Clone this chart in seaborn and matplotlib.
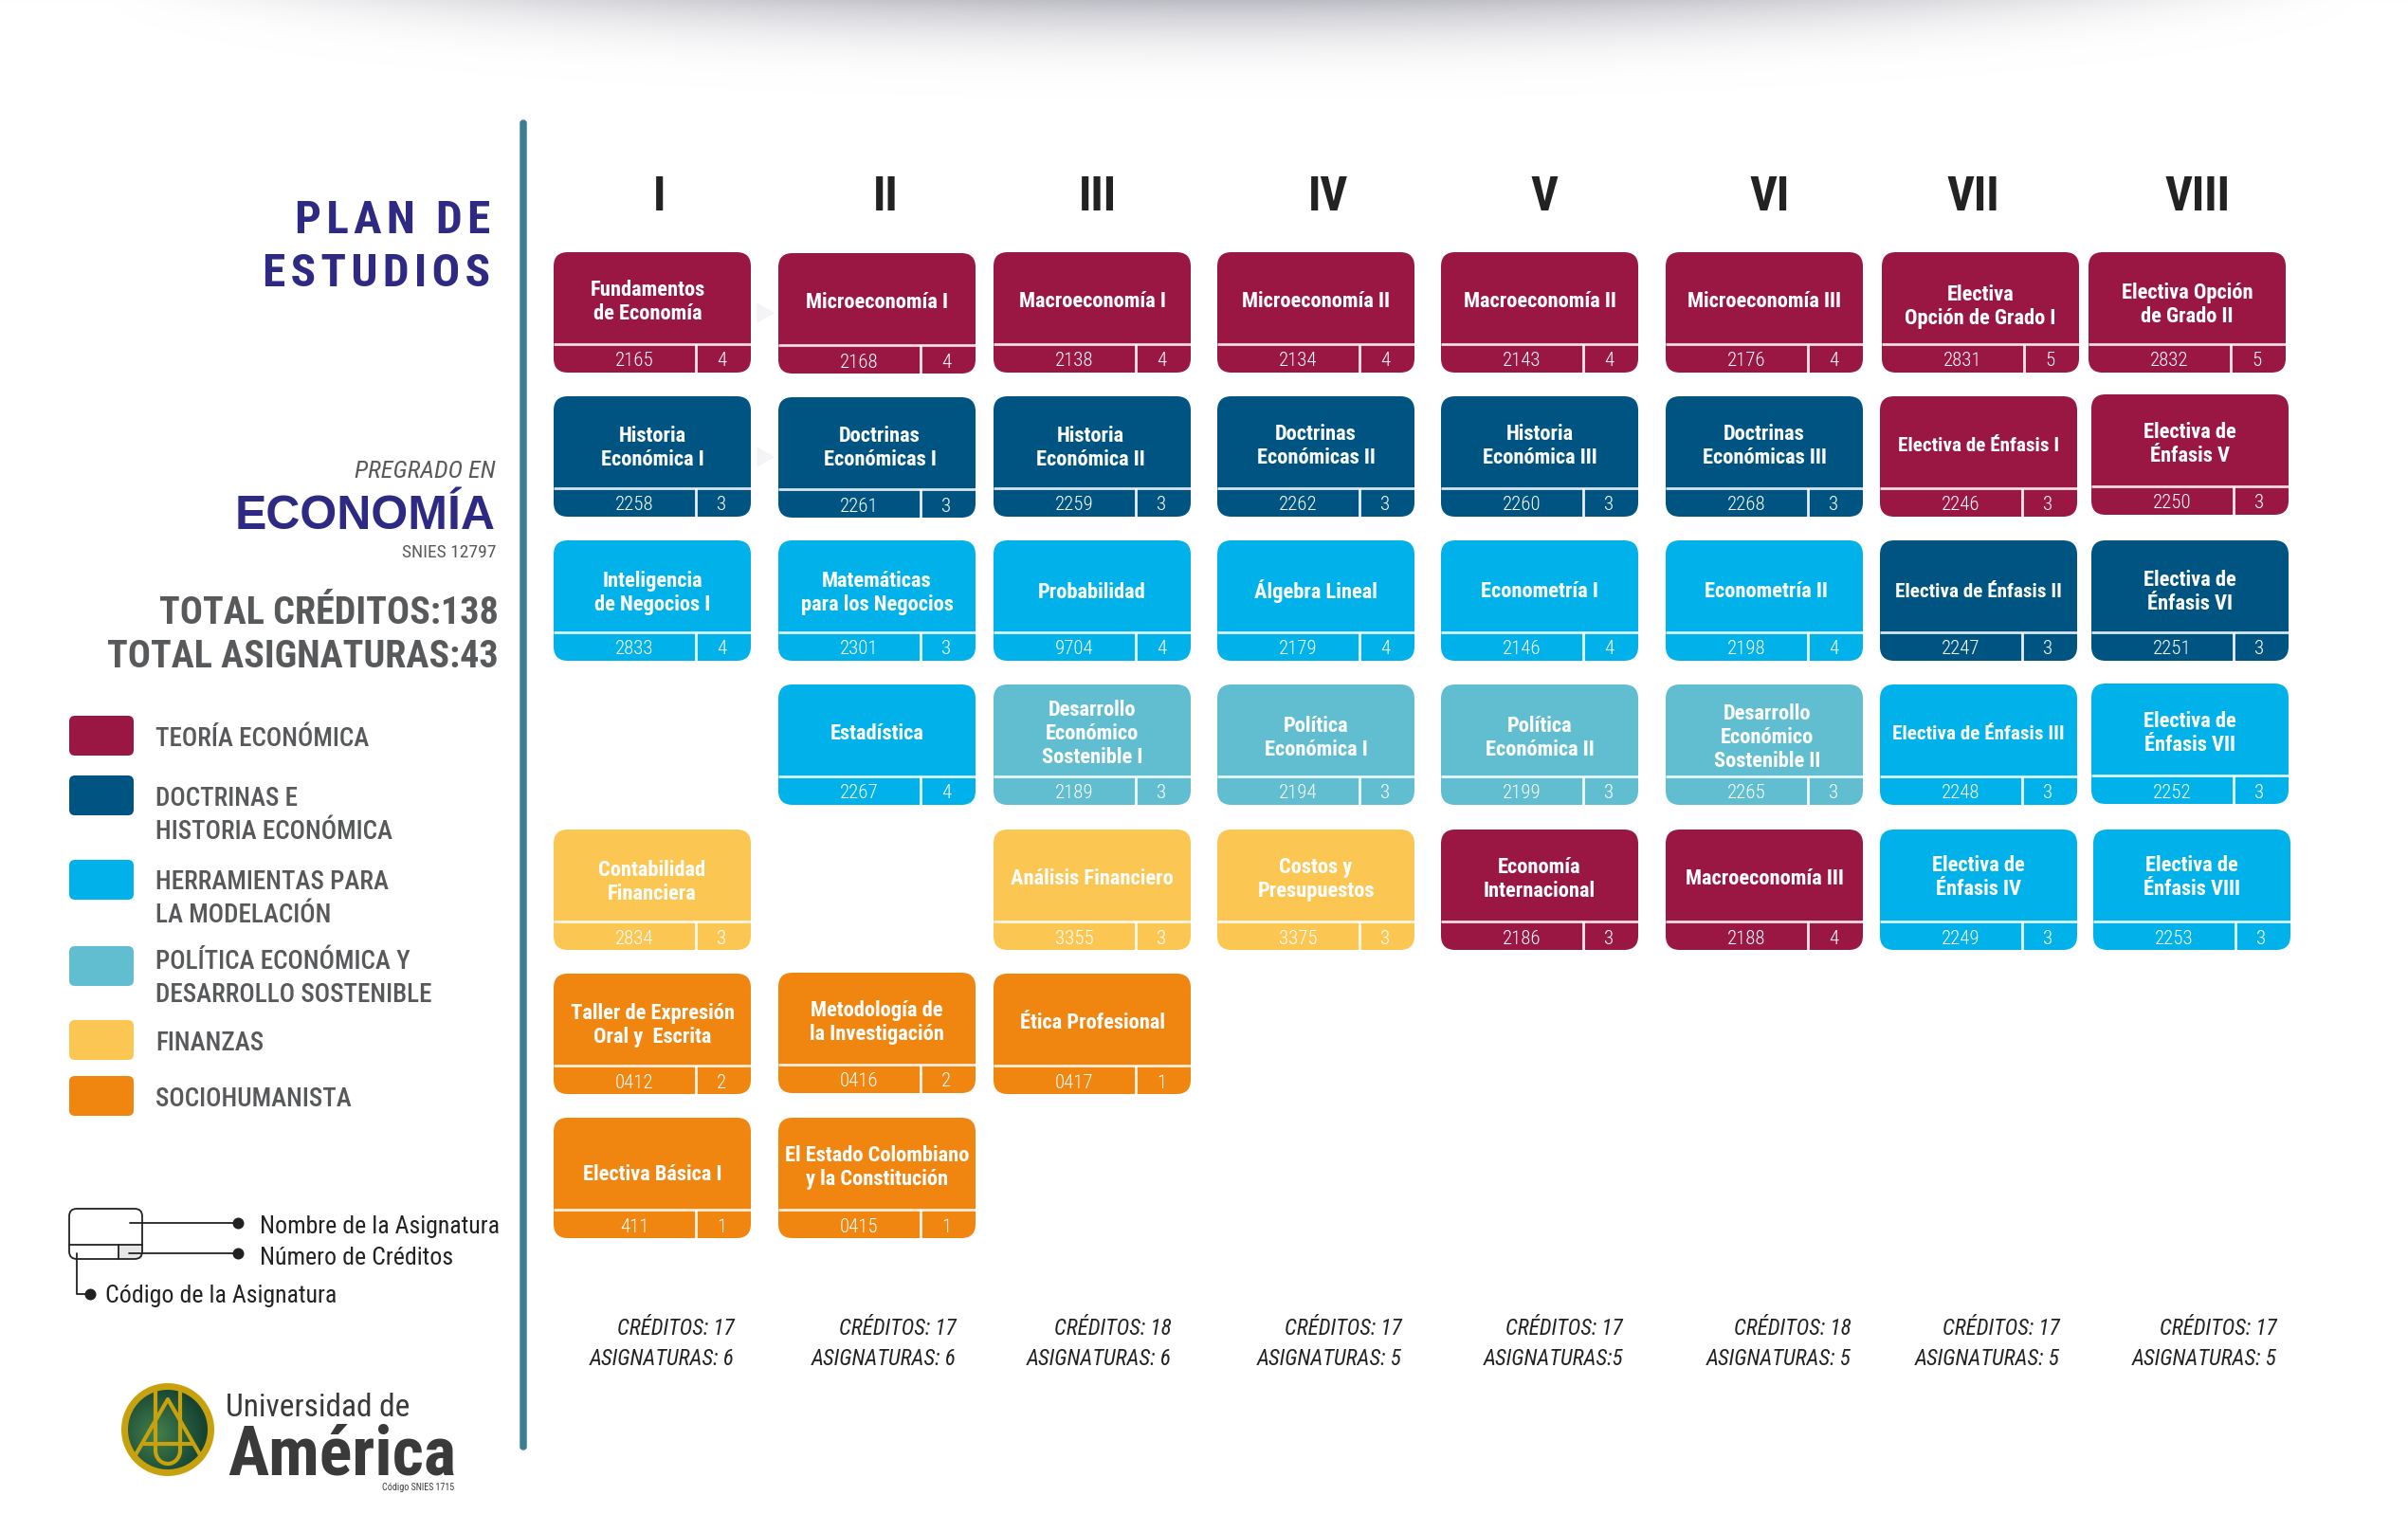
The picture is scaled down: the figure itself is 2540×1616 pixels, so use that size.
# imports
import numpy as np
import pandas as pd
import matplotlib
matplotlib.use("Agg")
import matplotlib.pyplot as plt
import matplotlib.font_manager as fm
from matplotlib.patches import Circle, FancyBboxPatch, Polygon, Rectangle, Arc
import seaborn as sns

# course data, semester by semester
course_sem = [1]*6 + [2]*6 + [3]*6 + [4]*5 + [5]*5 + [6]*5 + [7]*5 + [8]*5
course_row = [0, 1, 2, 4, 5, 6,
              0, 1, 2, 3, 5, 6,
              0, 1, 2, 3, 4, 5,
              0, 1, 2, 3, 4,
              0, 1, 2, 3, 4,
              0, 1, 2, 3, 4,
              0, 1, 2, 3, 4,
              0, 1, 2, 3, 4]
course_names = [
    "Fundamentos\nde Economía", "Historia\nEconómica I", "Inteligencia\nde Negocios I",
    "Contabilidad\nFinanciera", "Taller de Expresión\nOral y  Escrita", "Electiva Básica I",
    "Microeconomía I", "Doctrinas\nEconómicas I", "Matemáticas\npara los Negocios",
    "Estadística", "Metodología de\nla Investigación", "El Estado Colombiano\ny la Constitución",
    "Macroeconomía I", "Historia\nEconómica II", "Probabilidad",
    "Desarrollo\nEconómico\nSostenible I", "Análisis Financiero", "Ética Profesional",
    "Microeconomía II", "Doctrinas\nEconómicas II", "Álgebra Lineal",
    "Política\nEconómica I", "Costos y\nPresupuestos",
    "Macroeconomía II", "Historia\nEconómica III", "Econometría I",
    "Política\nEconómica II", "Economía\nInternacional",
    "Microeconomía III", "Doctrinas\nEconómicas III", "Econometría II",
    "Desarrollo\nEconómico\nSostenible II", "Macroeconomía III",
    "Electiva\nOpción de Grado I", "Electiva de Énfasis I", "Electiva de Énfasis II",
    "Electiva de Énfasis III", "Electiva de\nÉnfasis IV",
    "Electiva Opción\nde Grado II", "Electiva de\nÉnfasis V", "Electiva de\nÉnfasis VI",
    "Electiva de\nÉnfasis VII", "Electiva de\nÉnfasis VIII",
]
course_codes = [
    "2165", "2258", "2833", "2834", "0412", "411",
    "2168", "2261", "2301", "2267", "0416", "0415",
    "2138", "2259", "9704", "2189", "3355", "0417",
    "2134", "2262", "2179", "2194", "3375",
    "2143", "2260", "2146", "2199", "2186",
    "2176", "2268", "2198", "2265", "2188",
    "2831", "2246", "2247", "2248", "2249",
    "2832", "2250", "2251", "2252", "2253",
]
course_credits = [
    4, 3, 4, 3, 2, 1,
    4, 3, 3, 4, 2, 1,
    4, 3, 4, 3, 3, 1,
    4, 3, 4, 3, 3,
    4, 3, 4, 3, 3,
    4, 3, 4, 3, 4,
    5, 3, 3, 3, 3,
    5, 3, 3, 3, 3,
]
course_areas = [
    "T", "D", "H", "F", "S", "S",
    "T", "D", "H", "H", "S", "S",
    "T", "D", "H", "P", "F", "S",
    "T", "D", "H", "P", "F",
    "T", "D", "H", "P", "T",
    "T", "D", "H", "P", "T",
    "T", "T", "D", "H", "H",
    "T", "T", "D", "H", "H",
]

semesters = ["I", "II", "III", "IV", "V", "VI", "VII", "VIII"]
sem_credits = ["CRÉDITOS: 17", "CRÉDITOS: 17", "CRÉDITOS: 18", "CRÉDITOS: 17",
               "CRÉDITOS: 17", "CRÉDITOS: 18", "CRÉDITOS: 17", "CRÉDITOS: 17"]
sem_subjects = ["ASIGNATURAS: 6", "ASIGNATURAS: 6", "ASIGNATURAS: 6", "ASIGNATURAS: 5",
                "ASIGNATURAS:5", "ASIGNATURAS: 5", "ASIGNATURAS: 5", "ASIGNATURAS: 5"]

area_keys = ["T", "D", "H", "P", "F", "S"]
area_labels = ["TEORÍA ECONÓMICA", "DOCTRINAS E\nHISTORIA ECONÓMICA", "HERRAMIENTAS PARA\nLA MODELACIÓN",
               "POLÍTICA ECONÓMICA Y\nDESARROLLO SOSTENIBLE", "FINANZAS", "SOCIOHUMANISTA"]

# colours
palette = sns.color_palette(["#9A1744", "#005482", "#00B2E9", "#61BED1", "#FCC653", "#F08510"])
area_colors = dict(zip(area_keys, palette))
NAVY = "#2E2A83"
GRAY = "#58595B"
BAR = "#3E7C92"
DARK = "#3A3A3A"

# layout in image pixels
col_left = [584, 821, 1048, 1284, 1520, 1757, 1983, 2206]
row_top = [266, 418, 570, 722, 875, 1027, 1179]
CARD_W, CARD_H = 208, 127
sem_x = [696, 934, 1158, 1401, 1629, 1867, 2081, 2318]
foot_right = [775, 1009, 1236, 1479, 1712, 1953, 2173, 2402]
swatch_top = [755, 818, 907, 998, 1076, 1135]
label_y = [[777], [840, 875], [928, 963], [1012, 1047], [1098], [1157]]

# cards that sit a little off the grid, code: (dx, dy)
card_nudge = {"2168": (0, 1), "2261": (0, 1), "2831": (2, 0), "2832": (-3, 0), "2250": (0, -2),
              "2252": (0, -1), "2253": (2, 0), "0416": (0, -1)}
# titles that sit off the middle of their card, code: (dx, dy)
title_nudge = {"2165": (-5, 0), "2258": (0, 2), "2833": (0, 3), "2301": (0, 3), "9704": (0, 3),
               "2179": (0, 3), "2146": (0, 2), "2198": (2, 2), "2247": (0, 2), "2251": (0, 2),
               "2834": (0, 3), "2194": (0, 4), "2199": (0, 4), "411": (0, 8), "2831": (0, 5),
               "2832": (0, 3), "2259": (-2, 2), "2265": (3, 4), "0412": (0, 2), "2261": (3, 1),
               "2253": (0, -2), "2249": (0, -2)}

sns.set_theme(style="white")

# pick the narrowest installed family
installed = {f.name for f in fm.fontManager.ttflist}
NARROW = next(n for n in ["Roboto Condensed", "Liberation Sans Narrow", "Roboto"] if n in installed)
WIDE = "Liberation Sans"

fig = plt.figure(figsize=(25.4, 16.16), dpi=100, facecolor="white")
ax = fig.add_axes([0, 0, 1, 1])


def put(x, y, s, size, color="white", ha="center", weight="normal", style="normal", family=NARROW, z=5):
    # y is the vertical middle of the capitals, size in points
    ax.text(x, y + size / 2, s, fontsize=size, color=color, ha=ha, va="baseline",
            fontweight=weight, fontstyle=style, family=family, zorder=z)


# grey shadow at the top edge
gx, gy = np.meshgrid(np.arange(2540), np.arange(110))
spread = np.clip(1 - ((gx - 1300) / 1180) ** 2, 1e-4, 1)
fade = np.clip(1 - gy / (105 * np.sqrt(spread)), 0, 1) ** 2.4
shade = 1 - 0.26 * fade * spread ** 1.3
ax.imshow(np.dstack([shade, shade, shade + (1 - shade) * 0.12]), extent=(0, 2540, 110, 0), zorder=0)

# vertical rule
ax.add_patch(FancyBboxPatch((550, 128), 4, 1400, boxstyle="round,pad=0,rounding_size=2",
                            fc=BAR, ec=BAR, lw=2.5, zorder=2))

# faint arrows between the first two columns
for y_mid in [330, 482]:
    ax.add_patch(Polygon([[798, y_mid - 11], [817, y_mid], [798, y_mid + 11]], fc="#F4F4F6", ec="none", zorder=1))

# left panel headings, hair spaces stand in for the wide tracking
put(517, 228, "\u200a".join("PLAN DE"), 35.5, NAVY, "right", "bold", family=[NARROW, "DejaVu Sans"])
put(517, 284, "\u200a".join("ESTUDIOS"), 35.5, NAVY, "right", "bold", family=[NARROW, "DejaVu Sans"])
put(523, 494, "PREGRADO EN", 19, GRAY, "right", style="italic")
put(523, 540, "ECONOMÍA", 36, NAVY, "right", "bold", family=WIDE)
put(523, 581, "SNIES 12797", 14, GRAY, "right")
put(526, 644, "TOTAL CRÉDITOS:138", 28.9, GRAY, "right", "bold")
put(526, 690, "TOTAL ASIGNATURAS:43", 28.9, GRAY, "right", "bold")

# legend of areas
for top, lab, ys, col in zip(swatch_top, area_labels, label_y, palette):
    ax.add_patch(FancyBboxPatch((73, top), 68, 42, boxstyle="round,pad=0,rounding_size=6", fc=col, ec="none", zorder=3))
    for line, y in zip(lab.split("\n"), ys):
        put(164, y, line, 19.5, GRAY, "left", "medium")

# small key that explains a card
ax.add_patch(Rectangle((125, 1313), 25, 15, fc="#E6E6E6", ec="none", zorder=3))
ax.add_patch(FancyBboxPatch((73, 1275), 77, 53, boxstyle="round,pad=0,rounding_size=8", fc="none", ec="#222222", lw=1.3, zorder=4))
ax.plot([73, 150], [1313, 1313], color="#222222", lw=1.3, zorder=4)
ax.plot([125, 125], [1313, 1328], color="#222222", lw=1.3, zorder=4)
ax.plot([137, 251], [1290, 1290], color="#222222", lw=1.3, zorder=4)
ax.plot([136, 251], [1322, 1322], color="#222222", lw=1.3, zorder=4)
ax.plot([81, 81, 95], [1322, 1365, 1365], color="#222222", lw=1.3, zorder=4)
sns.scatterplot(x=[251, 251, 95], y=[1290, 1322, 1365], color="#222222", s=75, linewidth=0, legend=False, ax=ax, zorder=5)
put(274, 1292, "Nombre de la Asignatura", 18.6, "#222222", "left")
put(274, 1325, "Número de Créditos", 18.6, "#222222", "left")
put(111, 1365, "Código de la Asignatura", 18.6, "#222222", "left")

# university logo
CX, CY = 177, 1508
ax.add_patch(Circle((CX, CY), 49, fc="#C8A20E", ec="none", zorder=3))
lx, ly = np.meshgrid(np.linspace(-43, 43, 120), np.linspace(-43, 43, 120))
glow = np.clip(np.sqrt((lx + 12) ** 2 + (ly - 4) ** 2) / 50, 0, 1)[..., None]
green = np.array([0.26, 0.50, 0.30]) * (1 - glow) + np.array([0.09, 0.27, 0.20]) * glow
im = ax.imshow(green, extent=(CX - 43, CX + 43, CY + 43, CY - 43), zorder=3.5)
im.set_clip_path(Circle((CX, CY), 42, transform=ax.transData))
gold = "#C8A20E"
ax.plot([CX - 13, CX - 13], [CY - 42, CY + 22], color=gold, lw=3, zorder=4)
ax.plot([CX + 13, CX + 13], [CY - 42, CY + 22], color=gold, lw=3, zorder=4)
ax.add_patch(Arc((CX, CY + 22), 26, 28, theta1=0, theta2=180, color=gold, lw=3, zorder=4))
ax.plot([CX - 36, CX, CX + 36], [CY + 30, CY - 32, CY + 30], color=gold, lw=3, zorder=4)
ax.plot([CX - 26, CX + 26], [CY + 15, CY + 15], color=gold, lw=3, zorder=4)
put(238, 1482, "Universidad de", 24, DARK, "left")
put(240, 1530, "América", 52, DARK, "left", "bold")
put(479, 1568, "Código SNIES 1715", 7.2, DARK, "right")

# semester headers and footers
for x, s in zip(sem_x, semesters):
    put(x, 204, s, 36, "#222222", weight="bold")
for x, a, b in zip(foot_right, sem_credits, sem_subjects):
    put(x, 1400, a, 16.7, "#222222", "right", style="italic")
    put(x, 1432, b, 16.7, "#222222", "right", style="italic")

# cards
courses = pd.DataFrame({"sem": course_sem, "row": course_row, "name": course_names,
                        "code": course_codes, "credits": course_credits, "area": course_areas})
for c in courses.itertuples():
    dx, dy = card_nudge.get(c.code, (0, 0))
    left = col_left[c.sem - 1] + dx
    top = row_top[c.row] + dy
    ax.add_patch(FancyBboxPatch((left, top), CARD_W, CARD_H, boxstyle="round,pad=0,rounding_size=15",
                                fc=area_colors[c.area], ec="none", zorder=3))
    ax.plot([left, left + CARD_W], [top + 97, top + 97], color="white", alpha=0.85, lw=2, solid_capstyle="butt", zorder=4)
    ax.plot([left + 150, left + 150], [top + 97, top + CARD_H], color="white", alpha=0.9, lw=2, solid_capstyle="butt", zorder=4)
    tx, ty = title_nudge.get(c.code, (0, 0))
    title_size = 15.2 if c.name.startswith("Electiva de Énfasis") else 16.2
    lines = c.name.split("\n")
    for i, line in enumerate(lines):
        put(left + CARD_W / 2 + tx, top + 50 + ty + (i - (len(lines) - 1) / 2) * 25, line, title_size, weight="bold")
    put(left + 85, top + 113, c.code, 15, weight="light")
    put(left + 177, top + 113, str(c.credits), 15, weight="light")

ax.set_xlim(0, 2540)
ax.set_ylim(1616, 0)
ax.set_aspect("auto")
ax.axis("off")

fig.savefig("out.png", dpi=100)
